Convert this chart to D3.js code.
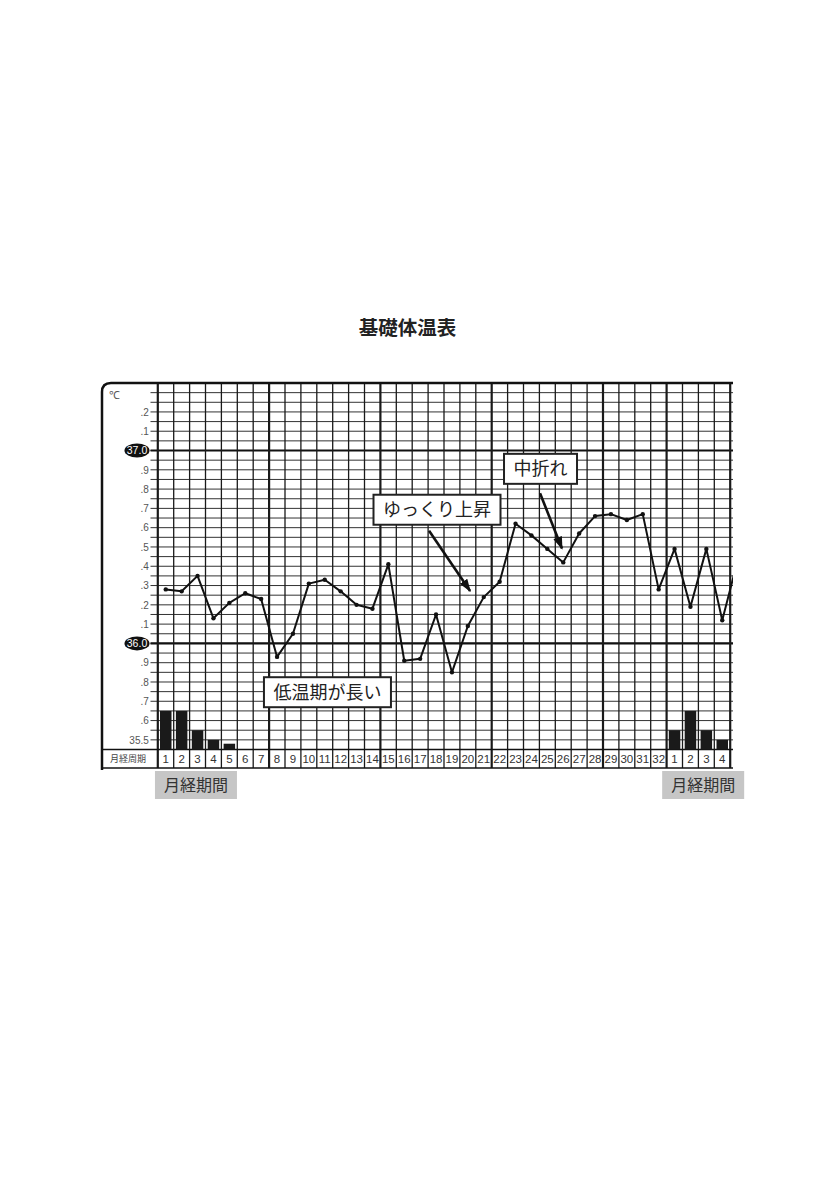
<!DOCTYPE html>
<html><head><meta charset="utf-8">
<script src="https://cdn.jsdelivr.net/npm/d3@7"></script>
<style>html,body{margin:0;padding:0;background:#fff;}</style>
</head><body>
<script>
// ---- data ----
const dayLabels = ["1","2","3","4","5","6","7","8","9","10","11","12","13","14","15","16","17","18","19","20","21","22","23","24","25","26","27","28","29","30","31","32","1","2","3","4","5"];
const temps = [36.28,36.27,36.35,36.13,36.21,36.26,36.23,35.93,36.05,36.31,36.33,36.27,36.20,36.18,36.41,35.91,35.92,36.15,35.85,36.09,36.24,36.32,36.62,36.56,36.49,36.42,36.57,36.66,36.67,36.64,36.67,36.28,36.49,36.19,36.49,36.12,36.44];
const flow = [4,4,2,1,0.6,0,0,0,0,0,0,0,0,0,0,0,0,0,0,0,0,0,0,0,0,0,0,0,0,0,0,0,2,4,2,1,0];
const yTickValues = [35.5,35.6,35.7,35.8,35.9,36.0,36.1,36.2,36.3,36.4,36.5,36.6,36.7,36.8,36.9,37.0,37.1,37.2];
const majorTemps = [36.0, 37.0];
const thickDayBoundaries = [7,14,21,28,32,36];
const title = "基礎体温表";
const annotations = [
  {text:"ゆっくり上昇", cx:17.56, cy:36.693, from:[17.06,36.584], to:[19.64,36.272]},
  {text:"中折れ", cx:24.07, cy:36.905, from:[24.04,36.778], to:[25.42,36.492]},
  {text:"低温期が長い", cx:10.67, cy:35.747, from:null, to:null}
];
const periodLabels = [{text:"月経期間", cx:2.4},{text:"月経期間", cx:34.3}];

// ---- layout ----
const W=835, H=1186;
const gx0=157.8, colW=15.9, clipR=733;
const gTop=383, gBot=749.5, rowB=768, frameL=102;
const svg=d3.select("body").append("svg").attr("width",W).attr("height",H);
svg.append("rect").attr("width",W).attr("height",H).attr("fill","#fff");

const x = d3.scaleBand().domain(d3.range(dayLabels.length)).range([gx0, gx0+colW*dayLabels.length]).padding(0);
const xl = d3.scaleLinear().domain([0, dayLabels.length]).range([gx0, gx0+colW*dayLabels.length]);
const y = d3.scaleLinear().domain([35.45, 37.35]).range([gBot, gTop]);
const fy = d3.scaleLinear().domain([0,1]).range([0, y(35.5)-y(35.55)]);

const defs=svg.append("defs");
defs.append("clipPath").attr("id","clip").append("rect").attr("x",0).attr("y",0).attr("width",clipR).attr("height",H);
defs.append("marker").attr("id","arr").attr("viewBox","0 0 10 10").attr("refX",9).attr("refY",5)
  .attr("markerWidth",5).attr("markerHeight",5).attr("orient","auto")
  .append("path").attr("d","M0,1.5 L10,5 L0,8.5 Z").attr("fill","#111");

svg.append("text").attr("x",407.5).attr("y",335).attr("text-anchor","middle")
  .attr("font-family","'Noto Sans CJK JP'").attr("font-weight",700).attr("font-size",19.5).attr("fill","#222").text(title);

const g=svg.append("g").attr("clip-path","url(#clip)");

// horizontal grid lines
const hk=d3.range(1,38);
g.selectAll("line.h").data(hk).join("line")
  .attr("x1",150.5).attr("x2",clipR)
  .attr("y1",k=>y(35.45+k*0.05)).attr("y2",k=>y(35.45+k*0.05))
  .attr("stroke","#333").attr("stroke-width",1);
g.selectAll("line.major").data(majorTemps).join("line")
  .attr("x1",150.5).attr("x2",clipR).attr("y1",d=>y(d)).attr("y2",d=>y(d))
  .attr("stroke","#111").attr("stroke-width",2.2);

// vertical grid lines
const vb=d3.range(0, dayLabels.length+1);
g.selectAll("line.v").data(vb).join("line")
  .attr("x1",b=>xl(b)).attr("x2",b=>xl(b)).attr("y1",gTop).attr("y2",rowB)
  .attr("stroke","#1a1a1a").attr("stroke-width",b=>(b===0||thickDayBoundaries.includes(b))?2.2:1.3);

// row lines
g.append("line").attr("x1",frameL).attr("x2",clipR).attr("y1",gBot).attr("y2",gBot).attr("stroke","#111").attr("stroke-width",1.6);
g.append("line").attr("x1",frameL).attr("x2",clipR).attr("y1",rowB).attr("y2",rowB).attr("stroke","#111").attr("stroke-width",1.4);

// frame
svg.append("path").attr("d",`M${frameL},${rowB+2} V${gTop+9} Q${frameL},${gTop} ${frameL+9},${gTop} H${clipR}`)
  .attr("fill","none").attr("stroke","#111").attr("stroke-width",2.5);

// flow bars
g.selectAll("rect.bar").data(flow.map((f,i)=>({f,i})).filter(d=>d.f>0)).join("rect")
  .attr("x",d=>x(d.i)+2.2).attr("width",x.bandwidth()-4.4)
  .attr("y",d=>gBot-fy(d.f)).attr("height",d=>fy(d.f)).attr("fill","#1a1a1a");

// y axis labels
const ax=d3.axisLeft(y).tickValues(yTickValues).tickSize(0).tickPadding(9)
  .tickFormat(t=>{const r=Math.round(t*10)/10; if(r===37||r===36) return ""; if(r===35.5) return "35.5"; return "."+Math.round((r*10)%10);});
const axg=svg.append("g").attr("transform",`translate(${gx0},0)`).call(ax);
axg.select(".domain").remove();
axg.selectAll("text").attr("font-family","'Liberation Sans'").attr("font-size",10).attr("fill","#555");

svg.append("text").attr("x",109).attr("y",399).attr("font-family","'Liberation Sans'").attr("font-size",11).attr("fill","#555").text("℃");

const mj=svg.selectAll("g.mj").data(majorTemps).join("g").attr("transform",d=>`translate(137,${y(d)})`);
mj.append("ellipse").attr("rx",12.5).attr("ry",7).attr("fill","#111");
mj.append("text").attr("text-anchor","middle").attr("dy","0.35em").attr("font-family","'Liberation Sans'").attr("font-size",10.5).attr("fill","#fff").text(d=>d.toFixed(1));

// day labels
g.selectAll("text.day").data(dayLabels).join("text")
  .attr("x",(d,i)=>x(i)+x.bandwidth()/2).attr("y",(gBot+rowB)/2).attr("dy","0.36em")
  .attr("text-anchor","middle").attr("font-family","'Liberation Sans'").attr("font-size",11.5).attr("fill","#333").text(d=>d);
svg.append("text").attr("x",128).attr("y",(gBot+rowB)/2).attr("dy","0.36em").attr("text-anchor","middle")
  .attr("font-family","'Noto Sans CJK JP'").attr("font-size",9).attr("fill","#444").text("月経周期");

// temperature line
const line=d3.line().x((d,i)=>x(i)+x.bandwidth()/2).y(d=>y(d));
g.append("path").datum(temps).attr("d",line).attr("fill","none").attr("stroke","#111").attr("stroke-width",2).attr("stroke-linejoin","round");
g.selectAll("circle.pt").data(temps).join("circle")
  .attr("cx",(d,i)=>x(i)+x.bandwidth()/2).attr("cy",d=>y(d)).attr("r",2.2).attr("fill","#111");

// annotations
annotations.forEach(a=>{
  const ag=svg.append("g");
  const t=ag.append("text").attr("x",xl(a.cx)).attr("y",y(a.cy)).attr("dy","0.36em").attr("text-anchor","middle")
    .attr("font-family","'Noto Sans CJK JP'").attr("font-size",18).attr("fill","#222").text(a.text);
  const bb=t.node().getBBox();
  ag.insert("rect","text").attr("x",bb.x-9.5).attr("y",y(a.cy)-15).attr("width",bb.width+19).attr("height",30)
    .attr("fill","#fff").attr("stroke","#222").attr("stroke-width",2);
  if(a.from){
    svg.append("line").attr("x1",xl(a.from[0])).attr("y1",y(a.from[1])).attr("x2",xl(a.to[0])).attr("y2",y(a.to[1]))
      .attr("stroke","#111").attr("stroke-width",2.6).attr("marker-end","url(#arr)");
  }
});

// period labels
periodLabels.forEach(p=>{
  const pg=svg.append("g");
  pg.append("rect").attr("x",xl(p.cx)-41).attr("y",771).attr("width",82).attr("height",28).attr("fill","#c6c6c6");
  pg.append("text").attr("x",xl(p.cx)).attr("y",785).attr("dy","0.36em").attr("text-anchor","middle")
    .attr("font-family","'Noto Sans CJK JP'").attr("font-size",16).attr("fill","#333").text(p.text);
});
</script>
</body></html>
